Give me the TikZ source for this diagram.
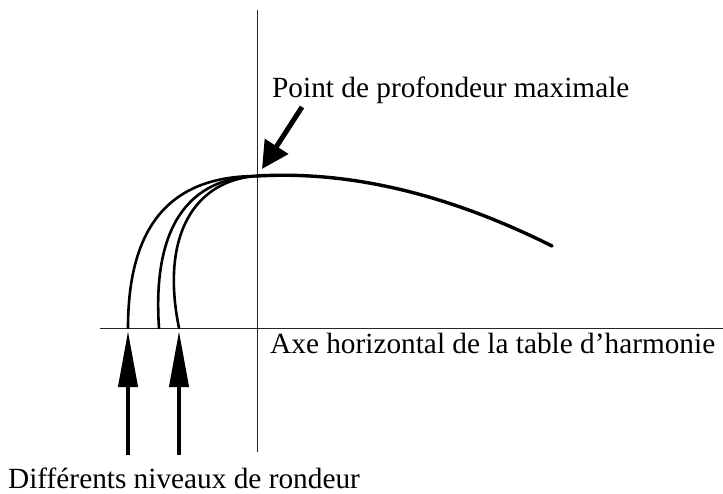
\documentclass[tikz,border=0pt]{standalone}
\usepackage{fontspec}
\setmainfont{Liberation Serif}
\usetikzlibrary{arrows.meta,positioning}

\begin{document}
\begin{tikzpicture}[x=1pt,y=-1pt,>=Stealth,
  axe/.style={line width=0.9pt,black!85},
  courbe/.style={line width=2.6pt,line cap=round},
  fleche/.style={line width=4pt,-{Triangle[length=56pt,width=19pt]}},
  legende/.style={font=\fontsize{29.3}{34}\selectfont,inner sep=0pt,anchor=base west}]
  \useasboundingbox (0,0) rectangle (723,493);
  % axes
  \coordinate (haut) at (257,10);
  \coordinate (bas) at (257,452);
  \coordinate (gauche) at (100,328);
  \coordinate (droite) at (723,328);
  \draw[axe] (haut) -- (bas);
  \draw[axe] (gauche) -- (droite);
  % profil de la table
  \coordinate (pmax) at (257,176);
  \coordinate (fin) at (552,246);
  \draw[courbe,line width=3.4pt] (pmax) .. controls (360,170) and (460,200) .. (fin);
  % trois niveaux de rondeur
  \coordinate (r1) at (128,328);
  \coordinate (r2) at (159,328);
  \coordinate (r3) at (179,328);
  \draw[courbe] (r1) .. controls (128,215) and (180,176) .. (pmax);
  \draw[courbe] (r2) .. controls (152,225) and (190,178) .. (pmax);
  \draw[courbe] (r3) .. controls (160,235) and (195,180) .. (pmax);
  % legendes
  \node[legende] (lpoint) at (272,97) {Point de profondeur maximale};
  \node[legende] (laxe) at (270,353) {Axe horizontal de la table d'harmonie};
  \node[legende] (lniv) at (8,488) {Différents niveaux de rondeur};
  % fleches
  \coordinate (p0) at (302,107);
  \coordinate (p1) at (262,169);
  \draw[fleche,line width=5pt,-{Triangle[length=27pt,width=27pt]}] (p0) -- (p1);
  \coordinate (n1) at (128,455);
  \coordinate (n2) at (179,455);
  \draw[fleche] (n1) -- ++(0,-124);
  \draw[fleche] (n2) -- ++(0,-124);
\end{tikzpicture}
\end{document}
